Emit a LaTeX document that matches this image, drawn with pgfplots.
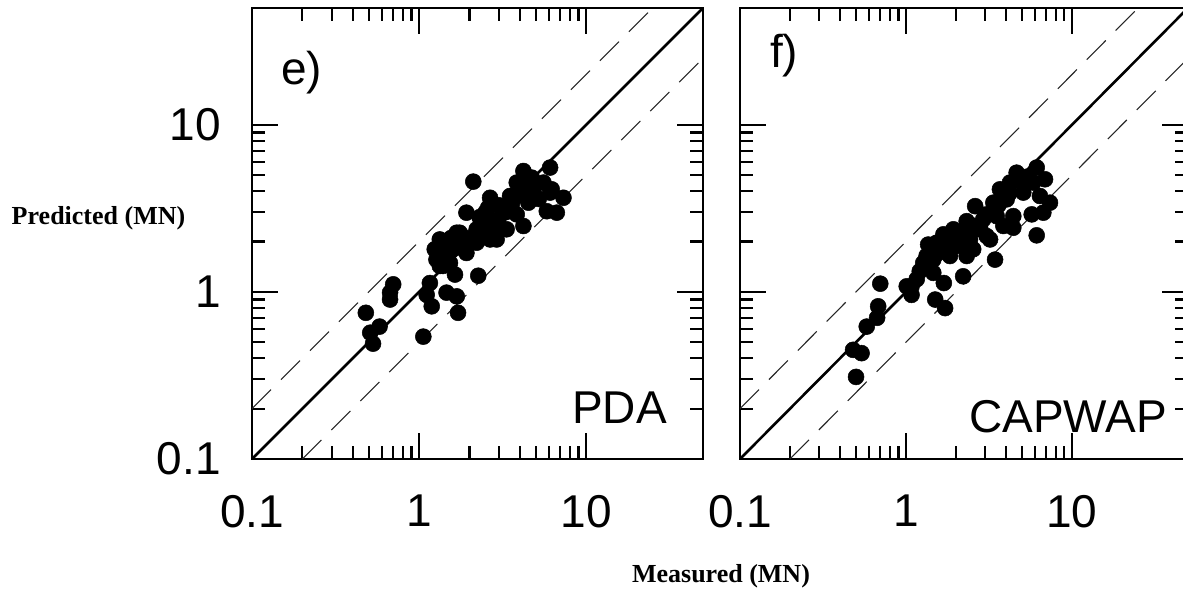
\documentclass[border=0pt]{standalone}
\usepackage{fontspec}
\setmainfont{Liberation Sans}
\newfontfamily\timesfont{Liberation Serif}
\usepackage{pgfplots}
\usepackage{pgfplotstable}
\pgfplotsset{compat=1.18}

% measured vs predicted capacity (MN)
\pgfplotstableread{
x y
0.48 0.75
0.51 0.57
0.53 0.49
0.58 0.62
0.67 0.90
0.70 1.11
0.67 0.99
1.06 0.54
1.16 1.13
1.11 0.96
1.19 0.82
1.46 0.99
1.68 0.94
1.71 0.75
2.26 1.25
1.33 2.06
1.24 1.80
1.27 1.56
1.33 1.43
1.68 2.26
1.60 1.80
1.53 1.49
1.64 1.27
1.92 1.71
1.92 2.98
2.11 4.57
2.21 2.37
2.42 2.26
2.66 2.06
2.54 2.65
2.66 3.66
2.59 3.19
2.98 2.72
3.34 2.37
3.19 3.12
3.50 3.75
3.84 2.91
4.21 2.48
3.84 4.51
4.21 5.29
4.72 4.83
4.51 3.42
4.83 3.93
5.55 4.51
6.08 5.55
6.08 3.93
5.81 3.04
6.67 2.98
7.31 3.66
6.22 4.11
2.91 2.06
2.21 1.97
1.75 2.26
1.39 1.43
2.78 2.37
1.45 1.95
1.50 1.68
1.40 1.62
1.80 2.00
2.00 2.10
2.30 2.80
2.50 3.00
3.00 3.30
3.30 3.00
3.60 3.40
4.00 3.80
4.40 4.20
5.00 4.40
5.20 3.60
1.55 2.10
}\pda

\pgfplotstableread{
x y
0.50 0.31
0.48 0.45
0.54 0.43
0.58 0.62
0.67 0.70
0.68 0.82
0.70 1.12
1.08 1.08
1.08 0.96
1.16 1.19
1.50 0.90
1.72 0.80
1.69 1.13
2.21 1.24
3.44 1.56
6.13 2.18
1.36 1.92
1.27 1.49
1.21 1.33
1.46 1.56
1.68 2.21
1.60 1.80
1.84 1.64
1.93 2.37
2.12 1.97
2.32 2.65
2.32 1.64
2.54 1.80
2.67 2.37
2.61 3.26
2.92 2.72
3.06 2.16
3.21 2.06
3.52 2.84
3.36 3.42
3.68 4.11
4.04 3.58
3.86 2.48
4.43 2.84
4.23 4.51
4.64 5.17
5.09 3.93
5.84 4.51
6.13 5.55
6.88 4.72
6.41 3.75
7.37 3.42
5.72 2.91
6.72 2.98
4.43 2.42
2.43 2.06
2.02 1.88
1.89 2.16
1.53 1.97
1.33 1.64
1.01 1.08
1.46 1.30
1.40 1.75
1.55 1.70
1.75 1.95
2.00 2.20
2.20 2.30
2.50 2.50
2.80 2.40
3.00 2.90
3.30 3.00
3.60 3.30
4.20 3.90
4.80 4.60
5.40 4.90
1.30 1.40
}\capwap

\pgfplotsset{
  mypanel/.style={
    scale only axis,
    height=451pt,
    xmin=0.1, xmax=50, ymin=0.1, ymax=50,
    xtick={0.1,1,10}, xticklabels={0.1,1,10},
    ytick={0.1,1,10},
    tick align=inside, tick pos=both,
    major tick length=26pt, minor tick length=13pt,
    tick style={black, line width=2.2pt},
    line width=2.4pt,
    ticklabel style={font=\fontsize{46}{50}\selectfont, inner sep=0pt},
    xticklabel style={anchor=north, yshift=-35pt},
    yticklabel style={anchor=east, xshift=-30pt},
  },
  mydiag/.style={black, line width=2.6pt},
  myband/.style={black!85, line width=1.1pt, dash pattern=on 27pt off 14pt},
  mydots/.style={only marks, mark=*, mark size=8pt,
    mark options={fill=black, draw=black, line width=0.5pt}},
}

\begin{document}
\begin{tikzpicture}
\useasboundingbox (0,0) rectangle (1183pt,590pt);

\begin{loglogaxis}[mypanel, width=451pt, at={(252pt,131pt)}, anchor=south west,
  yticklabels={0.1,1,10}]
  \addplot[mydiag] coordinates {(0.1,0.1) (50,50)};
  \addplot[myband] coordinates {(0.1,0.2) (25,50)};
  \addplot[myband] coordinates {(0.2,0.1) (50,25)};
  \addplot[mydots] table {\pda};
\end{loglogaxis}

\begin{loglogaxis}[mypanel, width=448pt, at={(740pt,131pt)}, anchor=south west,
  yticklabels={,,}]
  \addplot[mydiag] coordinates {(0.1,0.1) (50,50)};
  \addplot[myband] coordinates {(0.1,0.2) (25,50)};
  \addplot[myband] coordinates {(0.2,0.1) (50,25)};
  \addplot[mydots] table {\capwap};
\end{loglogaxis}

\node[font=\fontsize{46}{50}\selectfont, anchor=base west, inner sep=0pt] at (281pt,505pt) {e)};
\node[font=\fontsize{46}{50}\selectfont, anchor=base west, inner sep=0pt] at (770pt,522pt) {f)};
\node[font=\fontsize{46}{50}\selectfont, anchor=base east, inner sep=0pt] at (667pt,167pt) {PDA};
\node[font=\fontsize{46}{50}\selectfont, anchor=base east, inner sep=0pt] at (1167pt,158pt) {CAPWAP};

\node[font=\timesfont\bfseries\fontsize{26}{30}\selectfont, anchor=base, inner sep=0pt] at (98.5pt,365pt) {Predicted (MN)};
\node[font=\timesfont\bfseries\fontsize{26}{30}\selectfont, anchor=base, inner sep=0pt] at (721pt,8pt) {Measured (MN)};
\end{tikzpicture}
\end{document}
